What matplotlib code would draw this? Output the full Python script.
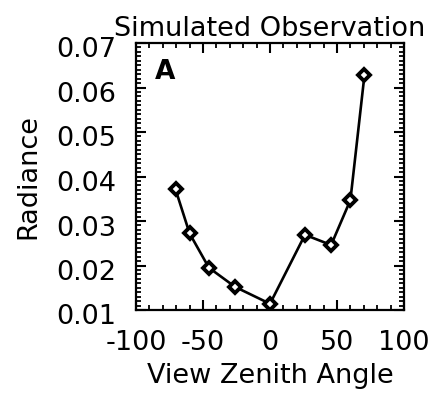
import numpy as np
import matplotlib
matplotlib.use("Agg")
import matplotlib.pyplot as plt
from matplotlib.ticker import MultipleLocator
from matplotlib.transforms import ScaledTranslation

# view zenith angles (deg) and simulated radiance
angles = [-70.5, -60.0, -45.6, -26.1, 0.0, 26.1, 45.6, 60.0, 70.5]
radiance = [0.0371, 0.0272, 0.0195, 0.0152, 0.0114, 0.0269, 0.0246, 0.0347, 0.0628]

xticks = [-100, -50, 0, 50, 100]
yticks = [0.01, 0.02, 0.03, 0.04, 0.05, 0.06, 0.07]

plt.rcParams["font.family"] = "DejaVu Sans"
plt.rcParams["axes.unicode_minus"] = False

fig = plt.figure(figsize=(4.34, 3.95), dpi=100)
ax = fig.add_axes([136 / 434, 1 - 310 / 395, 268 / 434, 267 / 395])

ax.plot(angles, radiance, color="black", lw=1.9, zorder=2)
ax.plot(angles, radiance, ls="none", marker="D", ms=6.5, mfc="white",
        mec="black", mew=2.8, zorder=3)

ax.set_xlim(-100, 100)
ax.set_ylim(0.01, 0.07)
ax.set_xticks(xticks)
ax.set_xticklabels([str(v) for v in xticks])
ax.set_yticks(yticks)
ax.set_yticklabels(["%.2f" % v for v in yticks])
ax.xaxis.set_minor_locator(MultipleLocator(10))
ax.yaxis.set_minor_locator(MultipleLocator(0.001))

ax.tick_params(which="both", direction="in", top=True, right=True,
               labelsize=19.5, colors="black")
ax.tick_params(which="major", length=7.5, width=1.5)
ax.tick_params(which="minor", length=3.8, width=1.3)
ax.tick_params(axis="x", which="major", pad=14.5)
ax.tick_params(axis="y", which="major", pad=14)
for s in ax.spines.values():
    s.set_linewidth(1.6)

# y labels sit a little below their ticks, as in the original
shift = ScaledTranslation(0, -0.045, fig.dpi_scale_trans)
for lab in ax.get_yticklabels():
    lab.set_transform(lab.get_transform() + shift)

ax.set_xlabel("View Zenith Angle", fontsize=19.5, labelpad=5)
ax.set_ylabel("Radiance", fontsize=19.5, labelpad=11)
ax.set_title("Simulated Observation", fontsize=19.5, pad=5)
ax.text(0.07, 0.94, "A", transform=ax.transAxes, fontsize=19,
        fontweight="bold", ha="left", va="top")

fig.savefig("out.png", dpi=100)
